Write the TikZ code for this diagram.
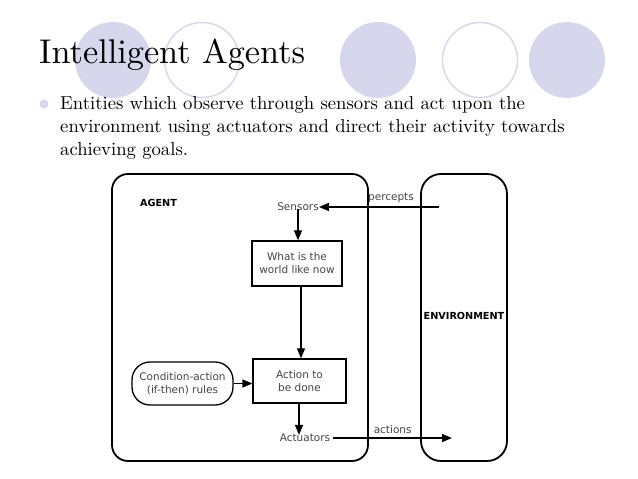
\documentclass[tikz,border=0pt]{standalone}
\usepackage{fontspec}
\newfontfamily\diagfont{DejaVu Sans}
\newfontfamily\slidefont{lmroman10-regular.otf}
\usetikzlibrary{arrows.meta, positioning}
\definecolor{lavender}{RGB}{214,214,236}
\definecolor{ringline}{RGB}{216,216,236}
\definecolor{labelgray}{RGB}{68,68,68}

\begin{document}
\begin{tikzpicture}[x=1pt, y=-1pt,
  every node/.style={inner sep=0pt},
  dot/.style={circle, fill=lavender, minimum size=76pt},
  ring/.style={circle, draw=ringline, line width=1.5pt, minimum size=75pt},
  headline/.style={anchor=base west, font=\slidefont\fontsize{34.3}{40}\selectfont},
  bodyline/.style={anchor=base west, font=\slidefont\fontsize{18.7}{22}\selectfont},
  frame/.style={draw, line width=1.8pt, rounded corners=16pt},
  box/.style={draw, line width=1.3pt, font=\diagfont\fontsize{10.5}{13}\selectfont, text=labelgray, align=center},
  txt/.style={font=\diagfont\fontsize{10.5}{13}\selectfont, text=labelgray},
  caps/.style={font=\diagfont\bfseries\fontsize{9.7}{12}\selectfont},
  arr/.style={-{Triangle[length=10pt, width=8pt]}, line width=1.3pt}
]
  \useasboundingbox (0,0) rectangle (638,479);

  % Decorative circles
  \node[dot]  (c1) at (113,60) {};
  \node[ring] (c2) at (202,60) {};
  \node[dot]  (c3) at (378,60) {};
  \node[ring] (c4) at (480,60) {};
  \node[dot]  (c5) at (567,60) {};

  % Title and bullet text
  \node[headline] (title) at (39,63) {Intelligent Agents};
  \node[circle, fill=lavender, minimum size=9pt] (bullet) at (44,104) {};
  \node[bodyline] (line1) at (60,109) {Entities which observe through sensors and act upon the};
  \node[bodyline] (line2) at (60,132) {environment using actuators and direct their activity towards};
  \node[bodyline] (line3) at (60,155) {achieving goals.};

  % Agent and environment
  \node[frame, minimum width=256pt, minimum height=287pt] (agent) at (240,317.5) {};
  \node[frame, rounded corners=20pt, minimum width=86pt, minimum height=287pt] (env) at (464,317.5) {};
  \node[caps] (agentlbl) at (158.5,203) {AGENT};
  \node[caps] (envlbl) at (464,316) {ENVIRONMENT};

  % Inside the agent
  \node[txt] (sensors) at (298,207) {Sensors};
  \node[box, minimum width=90pt, minimum height=45pt] (world) at (297,263.5) {What is the\\world like now};
  \node[box, minimum width=93pt, minimum height=44pt] (action) at (299.5,381) {Action to\\be done};
  \node[box, rounded corners=18pt, minimum width=101pt, minimum height=43pt] (rules) at (182.5,383.5) {Condition-action\\(if-then) rules};
  \node[txt] (actuators) at (305,438) {Actuators};

  \coordinate (pin) at (439,207);
  \coordinate (pout) at (452,438);

  \draw[arr] (pin) -- node[txt, above=4pt, pos=0.4] (percepts) {percepts} (sensors.east);
  \draw[arr] ([yshift=2pt]sensors.south -| 298,0) -- (world.north -| 298,0);
  \draw[arr] (world.south -| 301,0) -- (action.north -| 301,0);
  \draw[arr] (rules.east) -- (rules.east -| action.west);
  \draw[arr] (action.south -| 299,0) -- ([yshift=-1pt]actuators.north -| 299,0);
  \draw[arr] ([xshift=3pt]actuators.east) -- node[txt, above=4pt] (actions) {actions} (pout);
\end{tikzpicture}
\end{document}
